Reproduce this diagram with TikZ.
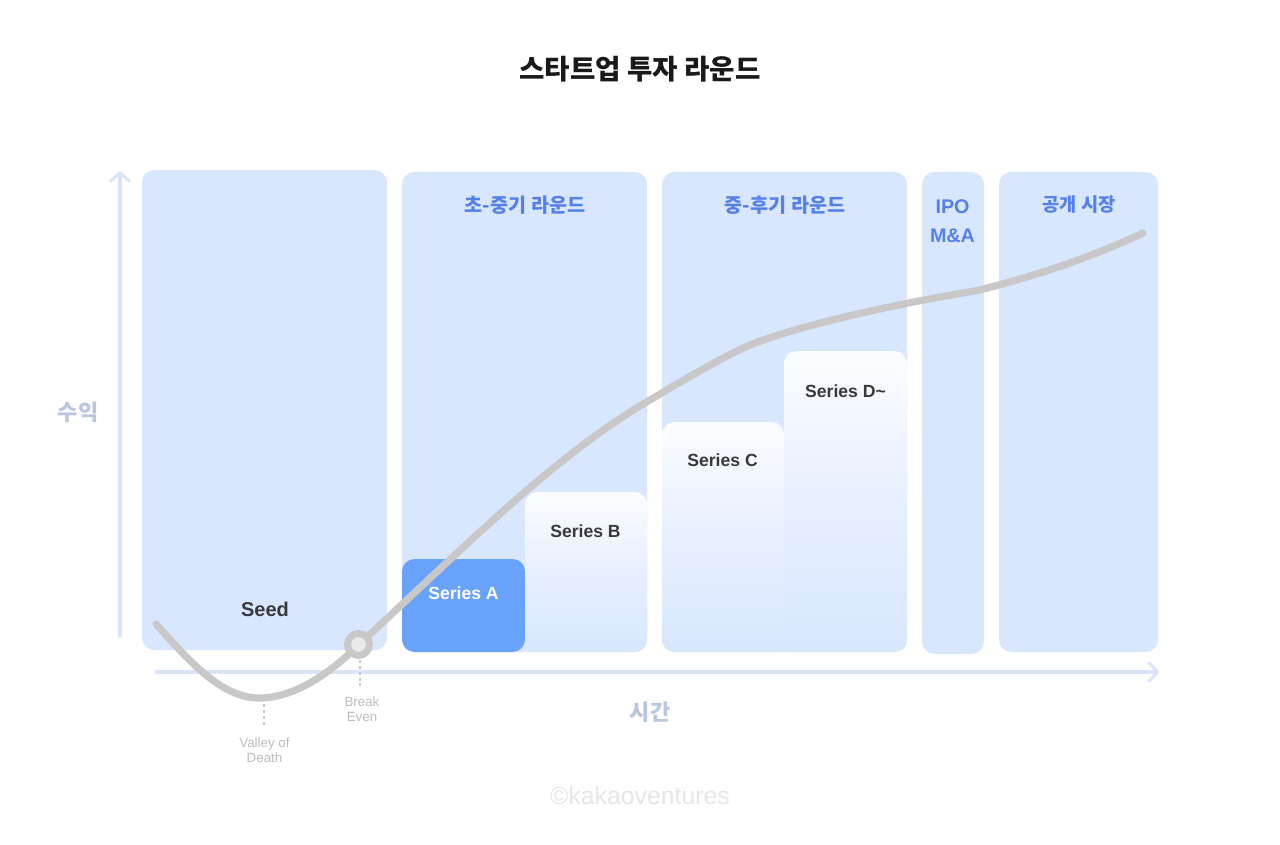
\documentclass[tikz,border=0pt]{standalone}
\usepackage{fontspec}
\usetikzlibrary{arrows.meta}
\setmainfont{Liberation Sans}
\newfontfamily\kr{Noto Sans CJK KR}
\definecolor{panel}{HTML}{D8E6FE}
\definecolor{axisc}{HTML}{D9E6FA}
\definecolor{curvec}{HTML}{C8C8C8}
\definecolor{heading}{HTML}{5580EA}
\definecolor{axislabel}{HTML}{B8C6DE}
\definecolor{seriesa}{HTML}{69A2FC}
\definecolor{dark}{HTML}{38393B}
\definecolor{note}{HTML}{BDBDBD}
\definecolor{mark}{HTML}{E6E6E6}
\tikzset{
  x=0.75pt,y=-0.75pt,
  panelbox/.style={anchor=north west,inner sep=0,outer sep=0,fill=panel,rounded corners=12.5*0.75pt},
  fadebox/.style={anchor=north west,inner sep=0,outer sep=0,rounded corners=12.5*0.75pt,top color=white!90!panel,bottom color=panel,middle color=white!38!panel},
  boxsize/.style n args={2}{minimum width=#1*0.75pt,minimum height=#2*0.75pt},
  headtext/.style={text=heading,font=\kr\bfseries\fontsize{14.7}{18}\selectfont,inner sep=0},
  latinhead/.style={text=heading,font=\bfseries\fontsize{14.8}{21.7}\selectfont,inner sep=0,align=center},
  serieslabel/.style={text=dark,font=\bfseries\fontsize{13.2}{16}\selectfont,inner sep=0},
  axislab/.style={text=axislabel,font=\kr\bfseries\fontsize{16.5}{20}\selectfont,inner sep=0},
  notetext/.style={text=note,font=\fontsize{10}{11.2}\selectfont,inner sep=0,align=center},
  axisline/.style={draw=axisc,line width=2.3pt,line cap=round,-{Straight Barb[length=6.5pt,width=14pt,line width=2.2pt,round]}},
  dotline/.style={draw=curvec,line width=1.6pt,dash pattern=on 2.4pt off 2pt},
  curveline/.style={draw=curvec,line width=5.4pt,line cap=round},
}
\begin{document}
\begin{tikzpicture}
\useasboundingbox (0,0) rectangle (1280,845);
\fill[white] (0,0) rectangle (1280,845);

\node[inner sep=0,font=\kr\bfseries\fontsize{20.7}{26}\selectfont,text=black!90] (title) at (640,69) {스타트업 투자 라운드};

\node[panelbox,boxsize={245}{480}] (seedp) at (142,170) {};
\node[panelbox,boxsize={245}{480}] (earlyp) at (402,172) {};
\node[panelbox,boxsize={245}{480}] (latep) at (662,172) {};
\node[panelbox,boxsize={62}{482}] (ipop) at (922,172) {};
\node[panelbox,boxsize={159}{480}] (pubp) at (999,172) {};

\node[anchor=north west,inner sep=0,outer sep=0,fill=seriesa,rounded corners=12.5*0.75pt,boxsize={123}{93}] (sa) at (402,559) {};
\node[fadebox,boxsize={122}{160}] (sb) at (525,492) {};
\node[fadebox,boxsize={122}{230}] (sc) at (662,422) {};
\node[fadebox,boxsize={123}{301}] (sd) at (784,351) {};

\coordinate (ystart) at (120,636);
\coordinate (yend) at (120,171);
\coordinate (xstart) at (156,672);
\coordinate (xend) at (1159,672);
\draw[axisline] (ystart) -- (yend);
\draw[axisline] (xstart) -- (xend);

\coordinate (c0) at (156,624);
\coordinate (c1) at (259,698);
\coordinate (c2) at (358,645);
\coordinate (c3) at (650,400);
\coordinate (c4) at (750,345);
\coordinate (c5) at (975,291);
\coordinate (c6) at (1143,233);
\draw[curveline] (c0) .. controls (190,662) and (222,698) .. (c1)
  .. controls (295,698) and (332,672) .. (c2)
  .. controls (455,557) and (550,458) .. (c3)
  .. controls (690,376) and (725,356) .. (c4)
  .. controls (800,325) and (900,303) .. (c5)
  .. controls (1030,278) and (1095,256) .. (c6);

\node[circle,draw=curvec,line width=5.2pt,fill=mark!85!white,minimum size=22*0.75pt,inner sep=0] (be) at (358.5,644.5) {};

\coordinate (v1) at (264,704);
\coordinate (v2) at (264,726);
\coordinate (b1) at (360,660);
\coordinate (b2) at (360,686);
\draw[dotline] (v1) -- (v2);
\draw[dotline] (b1) -- (b2);

\node[headtext] (h1) at (525,205) {초-중기 라운드};
\node[headtext] (h2) at (785,205) {중-후기 라운드};
\node[latinhead] (h3) at (952.5,221.5) {IPO\\M\&A};
\node[headtext,font=\kr\bfseries\fontsize{14}{18}\selectfont] (h4) at (1079,205) {공개 시장};

\node[text=dark,font=\bfseries\fontsize{15}{17}\selectfont,inner sep=0] (seedl) at (265,609.5) {Seed};
\node[serieslabel,text=white] (al) at (463.5,593) {Series A};
\node[serieslabel] (bl) at (585.5,531) {Series B};
\node[serieslabel] (cl) at (722.5,460) {Series C};
\node[serieslabel] (dl) at (845.5,391) {Series D\textasciitilde};

\node[axislab] (yl) at (78,412) {수익};
\node[axislab] (xl) at (650,712) {시간};

\node[notetext] (be2) at (362,709) {Break\\Even};
\node[notetext] (vd) at (264.5,750) {Valley of\\Death};
\node[inner sep=0,text=mark,font=\fontsize{18.6}{22}\selectfont] (copy) at (640,796) {©kakaoventures};
\end{tikzpicture}
\end{document}
